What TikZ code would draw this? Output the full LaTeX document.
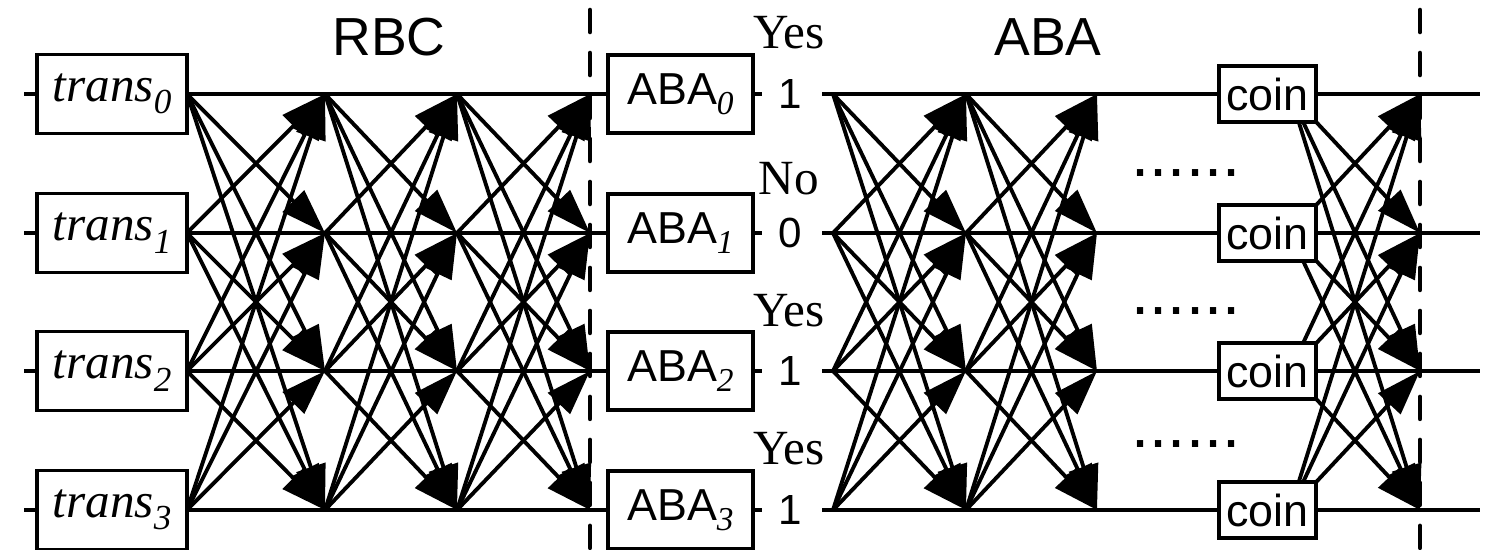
\documentclass[tikz,border=0pt]{standalone}
\usepackage{fontspec}
\setmainfont{Liberation Serif}
\setsansfont{Liberation Sans}
\usetikzlibrary{arrows.meta}

% lowered italic index: size, drop, digit
\newcommand{\lowsub}[3]{\raisebox{-#2}{\fontsize{#1}{#1}\selectfont\rmfamily\itshape #3}}

\tikzset{
  wire/.style={line width=2.2pt},
  mesh/.style={line width=2.2pt, -{Triangle[length=0.9cm,width=0.6cm]}},
  cutline/.style={line width=2.6pt, line cap=round, dash pattern=on 0.44cm off 0.42cm},
  transbox/.style={draw, line width=2.2pt, fill=white, inner sep=0pt,
    minimum width=3cm, minimum height=1.58cm, font=\fontsize{28}{32}\selectfont\itshape},
  ababox/.style={draw, line width=2.2pt, fill=white, inner sep=0pt,
    minimum width=2.9cm, minimum height=1.56cm, font=\fontsize{25.5}{30}\selectfont\sffamily},
  coinbox/.style={draw, line width=2.2pt, fill=white, inner sep=0pt,
    minimum width=1.94cm, minimum height=1.12cm, font=\fontsize{25.5}{30}\selectfont\sffamily},
  bit/.style={inner sep=0pt, font=\fontsize{24}{28}\selectfont\sffamily},
  vote/.style={inner sep=0pt, font=\fontsize{28}{32}\selectfont},
  phase/.style={inner sep=0pt, font=\fontsize{30.5}{34}\selectfont\sffamily},
  dots/.style={inner sep=0pt, anchor=base, font=\fontsize{37}{40}\selectfont\sffamily},
}

\begin{document}
\begin{tikzpicture}[x=0.02cm, y=-0.02cm]
    \useasboundingbox (0,0) rectangle (1485,549);
    % rows: index / height / decided bit / vote / vote height
    \foreach \i/\y/\v/\w/\h in {0/94/1/Yes/33, 1/233/0/No/179, 2/371/1/Yes/311, 3/510/1/Yes/449} {
        \coordinate (in\i) at (24,\y);
        \coordinate (s0\i) at (187,\y);
        \coordinate (s1\i) at (325,\y);
        \coordinate (s2\i) at (457,\y);
        \coordinate (s3\i) at (590,\y);
        \coordinate (n\i) at (762,\y);
        \coordinate (w\i) at (822,\y);
        \coordinate (b0\i) at (833,\y);
        \coordinate (b1\i) at (966,\y);
        \coordinate (b2\i) at (1097,\y);
        \coordinate (k\i) at (1290,\y);
        \coordinate (d\i) at (1420,\y);
        \coordinate (out\i) at (1480,\y);
        \node[bit] (v\i) at (790,\y) {\v};
        \node[vote] (y\i) at (789,\h) {\w};
    }
    % RBC: three all-to-all rounds, then ABA: two rounds and the coin round
    \foreach \a/\b in {s0/s1, s1/s2, s2/s3, b0/b1, b1/b2, k/d}
        \foreach \i in {0,...,3}
            \foreach \j in {0,...,3} {
                \ifnum\i=\j\relax\else
                    \draw[mesh] (\a\i) -- (\b\j);
                \fi
            }
    % wires and boxes
    \foreach \i/\y in {0/94, 1/233, 2/371, 3/510} {
        \node[transbox] (t\i) at (112,\y) {trans\lowsub{20}{7pt}{\i}};
        \node[ababox] (a\i) at (680.5,\y) {ABA\lowsub{19}{5.5pt}{\i}};
        \draw[wire] (in\i) -- (t\i.west);
        \draw[wire] (t\i.east) -- (a\i.west);
        \draw[wire] (a\i.east) -- (n\i);
        \draw[wire] (w\i) -- (out\i);
        \node[coinbox] (c\i) at (1267.5,\y) {coin};
    }
    % rounds left out
    \foreach \y in {176,314,447}
        \node[dots] at (1186,\y) {......};
    % phase borders
    \draw[cutline] (590,10) -- (590,549);
    \draw[cutline] (1420,10) -- (1420,549);
    \node[phase] (rbc) at (389,37) {RBC};
    \node[phase] (aba) at (1048,37) {ABA};
\end{tikzpicture}
\end{document}
